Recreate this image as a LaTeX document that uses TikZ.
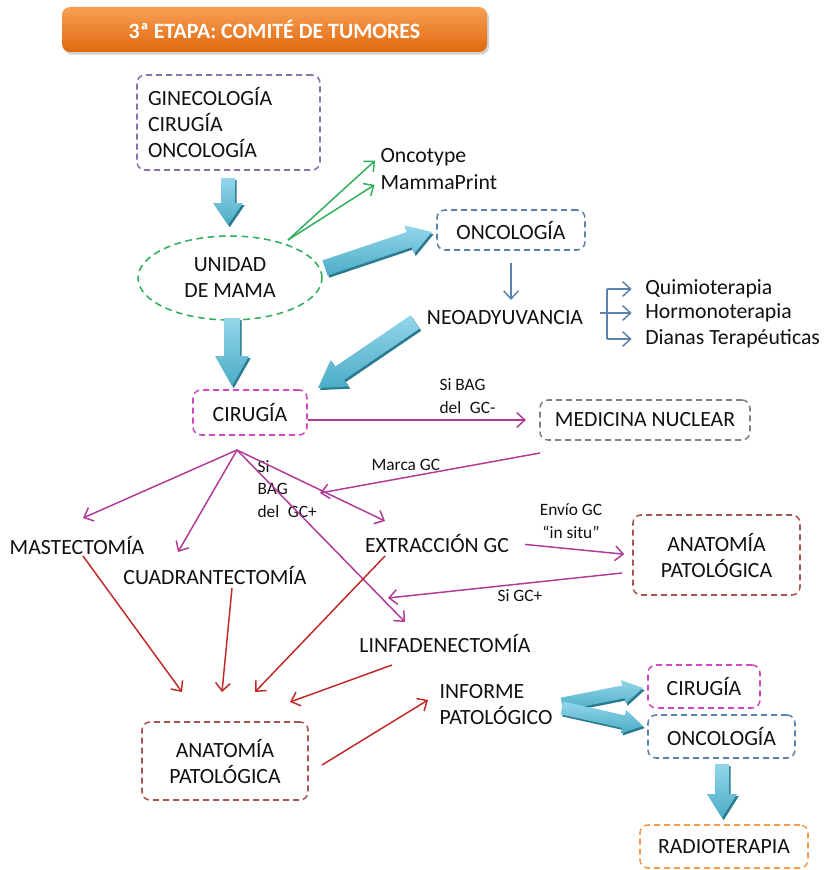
\documentclass[tikz,border=0pt]{standalone}
\usepackage{fontspec}
\setmainfont{Carlito}
\usetikzlibrary{arrows.meta,shapes.geometric,calc,shadows}

\definecolor{ink}{HTML}{111111}
\definecolor{cpurple}{HTML}{8C6FAF}
\definecolor{cgreen}{HTML}{2EAF5B}
\definecolor{cblue}{HTML}{5B82AD}
\definecolor{cgray}{HTML}{808080}
\definecolor{cpink}{HTML}{D048C0}
\definecolor{cred}{HTML}{A85450}
\definecolor{corange}{HTML}{F39C4C}
\definecolor{cmag}{HTML}{B03A96}
\definecolor{cline}{HTML}{C02828}
\definecolor{carrow}{HTML}{4BACC6}
\definecolor{carrowlt}{HTML}{93D6EA}
\definecolor{carrowdk}{HTML}{2B7A8F}
\definecolor{otop}{HTML}{F7A055}
\definecolor{obot}{HTML}{E0680E}

\newcommand\mainsz{\fontsize{16.3}{19.5}\selectfont}
\newcommand\lblsz{\fontsize{13}{17}\selectfont}

% thick 3D block arrow between two named coordinates
% #1 start, #2 end, #3 half body, #4 half head, #5 head length (all in px units)
\newcommand\blockarrow[5]{%
  \pgfpointdiff{\pgfpointanchor{#1}{center}}{\pgfpointanchor{#2}{center}}%
  \pgfgetlastxy{\baX}{\baY}%
  \pgfmathsetmacro\baLen{veclen(\baX,\baY)/0.75}%
  \pgfmathsetmacro\baAng{atan2(\baY,\baX)}%
  \pgfmathsetmacro\baNeck{\baLen-#5}%
  \begin{scope}[shift={(#1)},xshift=1.3pt,yshift=-1.6pt,rotate=\baAng]
    \fill[carrowdk] (0,#3) -- (\baNeck,#3) -- (\baNeck,#4) -- (\baLen,0)
      -- (\baNeck,-#4) -- (\baNeck,-#3) -- (0,-#3) -- cycle;
  \end{scope}
  \begin{scope}[shift={(#1)},rotate=\baAng]
    \shade[top color=carrowlt,bottom color=carrow] (0,#3) -- (\baNeck,#3) -- (\baNeck,#4) -- (\baLen,0)
      -- (\baNeck,-#4) -- (\baNeck,-#3) -- (0,-#3) -- cycle;
  \end{scope}
}

\begin{document}
\begin{tikzpicture}[x=0.75pt,y=-0.75pt,font=\mainsz,text=ink,
  dbox/.style={draw=#1,line width=1.15pt,dash pattern=on 4.5pt off 3pt,
    rounded corners=6pt,inner sep=0pt,align=center},
  plain/.style={inner sep=1pt,align=center},
  lbl/.style={font=\lblsz,inner sep=1pt,align=left},
  conn/.style={line width=1.1pt,-{Straight Barb[length=6pt,width=11pt]}},
  banner/.style={rounded corners=6pt,top color=otop,bottom color=obot,
    minimum width=318.75pt,minimum height=33.75pt,text=white,
    font=\fontsize{16.4}{19}\selectfont\bfseries,
    drop shadow={shadow xshift=1.5pt,shadow yshift=-2pt,opacity=0.35}},
]
\useasboundingbox (0,0) rectangle (825,870);
\fill[white] (0,0) rectangle (825,870);

% heading
\node[banner] (title) at (274.5,29.5) {3ª ETAPA: COMITÉ DE TUMORES};

% boxes and texts
\node[dbox=cpurple,minimum width=137.25pt,minimum height=71.25pt,
  text width=120.75pt,align=left,inner xsep=8.25pt] (gin) at (228.5,122.5)
  {GINECOLOGÍA\\CIRUGÍA\\ONCOLOGÍA};
\node[ellipse,draw=cgreen,line width=1.15pt,dash pattern=on 5pt off 3.5pt,
  minimum width=138pt,minimum height=63pt,inner sep=0pt,align=center] (uni) at (230,278)
  {UNIDAD\\DE MAMA};
\node[plain,anchor=west] (oncotype) at (379,157) {Oncotype};
\node[plain,anchor=west] (mamma) at (379,182) {MammaPrint};
\node[dbox=cblue,minimum width=111pt,minimum height=30pt] (onc) at (511,230) {ONCOLOGÍA};
\node[plain] (neo) at (505,318) {NEOADYUVANCIA};
\node[plain,anchor=west,inner sep=0pt] (quim) at (645,289) {Quimioterapia};
\node[plain,anchor=west,inner sep=0pt] (horm) at (645,313) {Hormonoterapia};
\node[plain,anchor=west,inner sep=0pt] (dian) at (645,339) {Dianas Terapéuticas};

\node[dbox=cpink,minimum width=85.5pt,minimum height=33.75pt] (cir) at (250,412.5) {CIRUGÍA};
\node[dbox=cgray,minimum width=157.5pt,minimum height=30pt] (med) at (645,420) {MEDICINA NUCLEAR};

\node[plain] (mast) at (77,545) {MASTECTOMÍA};
\node[plain] (cuad) at (215,575) {CUADRANTECTOMÍA};
\node[plain] (extr) at (437,543) {EXTRACCIÓN GC};
\node[plain] (linf) at (445,643) {LINFADENECTOMÍA};
\node[dbox=cred,minimum width=125.25pt,minimum height=60pt] (ap) at (716.5,555) {ANATOMÍA\\PATOLÓGICA};

\node[dbox=cred,minimum width=124.5pt,minimum height=58.5pt] (ap2) at (225,761) {ANATOMÍA\\PATOLÓGICA};
\node[plain,anchor=west,align=left] (inf) at (438,705) {INFORME\\PATOLÓGICO};
\node[dbox=cpink,minimum width=84pt,minimum height=32.25pt] (cir2) at (704,686.5) {CIRUGÍA};
\node[dbox=cblue,minimum width=110.25pt,minimum height=32.25pt] (onc2) at (721.5,736.5) {ONCOLOGÍA};
\node[dbox=corange,minimum width=126pt,minimum height=32.25pt] (radio) at (724,846.5) {RADIOTERAPIA};

% connector labels
\node[lbl,anchor=west] (lbag) at (438,396) {Si BAG\\del\enspace GC-};
\node[lbl,anchor=west] (lmarca) at (370,465) {Marca GC};
\node[lbl,anchor=west] (lbagp) at (256,489) {Si\\BAG\\del\enspace GC+};
\node[lbl,align=center] (lenvio) at (571,521) {Envío GC\\“in situ”};
\node[lbl,anchor=west] (lsigc) at (496,596) {Si GC+};

% block arrow end points
\coordinate (b1s) at (228,178); \coordinate (b1e) at (228,225);
\coordinate (b2s) at (325,268); \coordinate (b2e) at (432,232);
\coordinate (b3s) at (232,318); \coordinate (b3e) at (232,386);
\coordinate (b4s) at (415,322); \coordinate (b4e) at (318,388);
\coordinate (b5s) at (562,704); \coordinate (b5e) at (643,688);
\coordinate (b6s) at (562,708); \coordinate (b6e) at (643,726);
\coordinate (b7s) at (722,764); \coordinate (b7e) at (722,818);

\blockarrow{b1s}{b1e}{7}{15}{22}
\blockarrow{b2s}{b2e}{8}{15}{24}
\blockarrow{b3s}{b3e}{8}{17}{30}
\blockarrow{b4s}{b4e}{8}{16}{26}
\blockarrow{b5s}{b5e}{6.5}{12}{20}
\blockarrow{b6s}{b6e}{6.5}{12}{20}
\blockarrow{b7s}{b7e}{7}{15}{24}

% green genomic-test arrows
\coordinate (g0) at (288,240);
\draw[conn,cgreen,shorten >=4pt] (g0) -- (oncotype.west);
\draw[conn,cgreen,shorten >=4pt] (g0) -- (mamma.west);

% oncology to neoadjuvant treatment
\draw[conn,cblue,shorten <=9pt,shorten >=7pt] (onc.south) -- (onc.south |- neo.north);
\coordinate (brk) at (607,313);
\coordinate (brm) at (600,313);
\draw[cblue,line width=1.1pt] (brk |- quim.west) -- (brk |- dian.west);
\draw[conn,cblue,shorten >=10pt] (brk |- quim.west) -- (quim.west);
\draw[conn,cblue,shorten >=10pt] (brm) -- (horm.west);
\draw[conn,cblue,shorten >=10pt] (brk |- dian.west) -- (dian.west);

% surgery branches
\draw[conn,cmag,shorten >=10pt] (cir.east |- med.west) -- (med.west);
\coordinate (mkS) at (540,453); \coordinate (mkE) at (320,493);
\draw[conn,cmag] (mkS) -- (mkE);
\coordinate (f0) at (237,450);
\coordinate (tMast) at (83,518); \coordinate (tCuad) at (178,552);
\coordinate (tExtr) at (385,521); \coordinate (tLinf) at (405,622);
\draw[conn,cmag] (f0) -- (tMast);
\draw[conn,cmag] (f0) -- (tCuad);
\draw[conn,cmag] (f0) -- (tExtr);
\draw[conn,cmag] (f0) -- (tLinf);
\draw[conn,cmag,shorten <=11pt,shorten >=6pt] (extr.east) -- (ap.west);
\coordinate (sgS) at (622,573); \coordinate (sgE) at (388,598);
\draw[conn,cmag] (sgS) -- (sgE);

% specimens to pathology
\coordinate (r1s) at (83,556);  \coordinate (r1e) at (182,692);
\coordinate (r2s) at (232,588); \coordinate (r2e) at (222,692);
\coordinate (r3s) at (385,556); \coordinate (r3e) at (255,692);
\coordinate (r4s) at (392,665); \coordinate (r4e) at (290,702);
\coordinate (r5s) at (322,765); \coordinate (r5e) at (428,700);
\draw[conn,cline] (r1s) -- (r1e);
\draw[conn,cline] (r2s) -- (r2e);
\draw[conn,cline] (r3s) -- (r3e);
\draw[conn,cline] (r4s) -- (r4e);
\draw[conn,cline] (r5s) -- (r5e);
\end{tikzpicture}
\end{document}
